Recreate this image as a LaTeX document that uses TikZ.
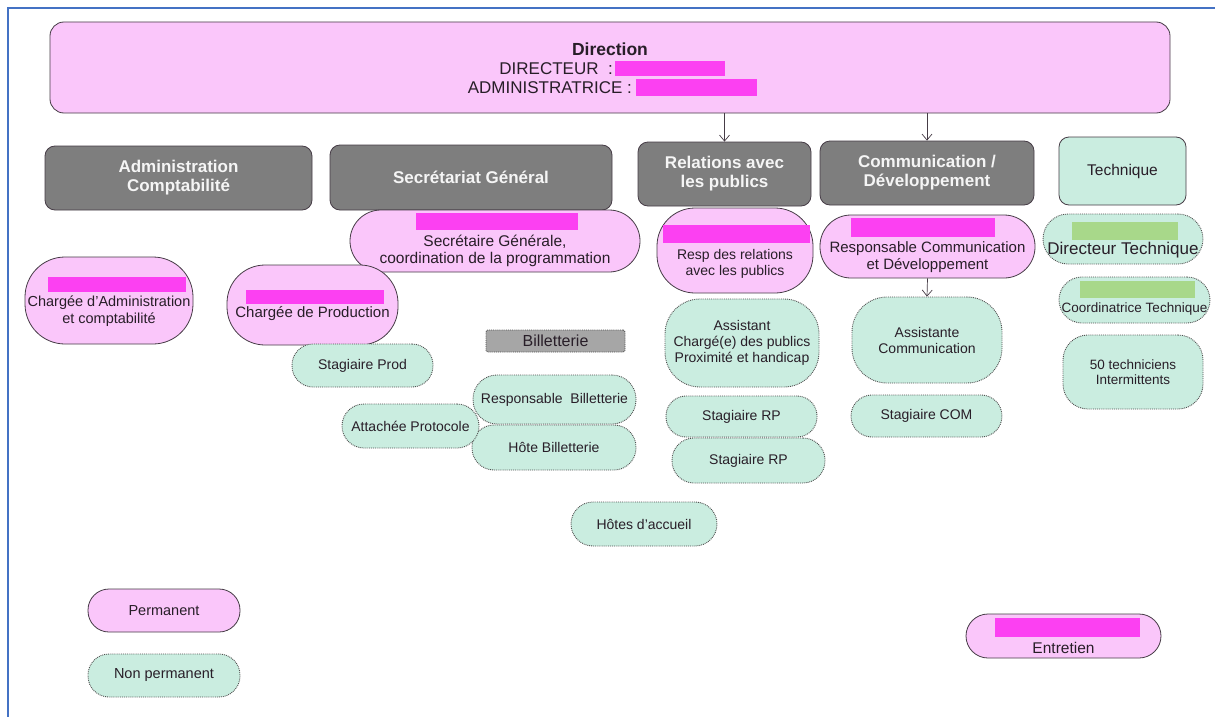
\documentclass[tikz,border=0pt]{standalone}
\usepackage{fontspec}
\setmainfont{Liberation Sans}
\usetikzlibrary{arrows.meta}
\definecolor{pinkfill}{RGB}{250,198,250}
\definecolor{magbar}{RGB}{252,64,242}
\definecolor{grayhead}{RGB}{126,126,126}
\definecolor{greenfill}{RGB}{202,237,224}
\definecolor{greenbar}{RGB}{168,216,138}
\definecolor{billfill}{RGB}{166,166,166}
\definecolor{frameblue}{RGB}{68,114,196}
\definecolor{edge}{RGB}{70,60,70}
\definecolor{dotedge}{RGB}{80,80,80}
\definecolor{txt}{RGB}{40,30,40}
\definecolor{headtxt}{RGB}{245,245,245}
\newcommand{\fs}[2]{\fontsize{#1}{#2}\selectfont}
\tikzset{
  box/.style={inner sep=0pt, align=center, text=txt},
  headbox/.style={box, draw=edge, line width=0.8pt, fill=grayhead, rounded corners=10pt, text=headtxt, font=\fs{17}{19}\bfseries},
  permbox/.style={box, draw=edge, line width=0.8pt, fill=pinkfill},
  npermbox/.style={box, draw=dotedge, line width=0.9pt, densely dotted, fill=greenfill},
  redbar/.style={fill=magbar, inner sep=0pt},
  grbar/.style={fill=greenbar, inner sep=0pt},
  lbl/.style={inner sep=0pt, align=center, text=txt},
  arr/.style={draw=edge, line width=0.7pt, -{Straight Barb[length=6pt,width=10pt]}}
}
\begin{document}
\begin{tikzpicture}[x=1pt,y=-1pt]
\useasboundingbox[fill=white] (0,0) rectangle (1215,717);
% frame
\draw[frameblue, line width=2pt] (8,717) -- (8,8) -- (1215,8);

% Direction
\node[permbox, rounded corners=14pt, minimum width=1120pt, minimum height=91pt] (dir) at (610,67.5) {};
\node[lbl, font=\fs{17.5}{19}\bfseries] (dirt) at (610,49) {Direction};
\node[lbl, anchor=east, font=\fs{17}{19}] (dirl1) at (613,69) {DIRECTEUR \ :};
\node[lbl, anchor=east, font=\fs{17}{19}] (dirl2) at (632,88) {ADMINISTRATRICE :};
\fill[magbar] (615,61) rectangle (725,76);
\fill[magbar] (636,79) rectangle (757,96);

% headers
\node[headbox, minimum width=267pt, minimum height=64pt] (adm) at (178.5,178) {Administration\\Comptabilité};
\node[headbox, minimum width=282pt, minimum height=65pt] (sg) at (471,177.5) {Secrétariat Général};
\node[headbox, minimum width=173pt, minimum height=64pt] (rel) at (724.5,174) {Relations avec\\les publics};
\node[headbox, minimum width=214pt, minimum height=64pt] (com) at (927,173) {Communication /\\Développement};
\node[box, draw=edge, line width=0.8pt, fill=greenfill, rounded corners=10pt, minimum width=127pt, minimum height=68pt, font=\fs{15.5}{17}] (tech) at (1122.5,171) {Technique};

\draw[arr] (dir.south -| rel.north) -- (rel.north);
\draw[arr] (dir.south -| com.north) -- (com.north);

% pink permanent
\node[permbox, rounded corners=31pt, minimum width=290pt, minimum height=62pt] (sgp) at (495,241) {};
\node[redbar, minimum width=162pt, minimum height=17pt] (sgpb) at (497,221.5) {};
\node[lbl, font=\fs{15.5}{16.5}] (sgpt) at (495,251) {Secrétaire Générale,\\coordination de la programmation};

\node[permbox, rounded corners=38pt, minimum width=156pt, minimum height=85pt] (relp) at (735,250.5) {};
\node[redbar, minimum width=147pt, minimum height=18pt] (relpb) at (736.5,234) {};
\node[lbl, font=\fs{14}{16}] (relpt) at (735,264) {Resp des relations\\avec les publics};

\node[permbox, rounded corners=31pt, minimum width=215pt, minimum height=63pt] (comp) at (927.5,246.5) {};
\node[redbar, minimum width=144pt, minimum height=19pt] (compb) at (923,227.5) {};
\node[lbl, font=\fs{15}{17.5}] (compt) at (927.5,257) {Responsable Communication\\et Développement};

\node[permbox, rounded corners=40pt, minimum width=168pt, minimum height=87pt] (admp) at (109,300.5) {};
\node[redbar, minimum width=138pt, minimum height=15pt] (admpb) at (117,284.5) {};
\node[lbl, font=\fs{14.5}{17.5}] (admpt) at (109,311) {Chargée d'Administration\\et comptabilité};

\node[permbox, rounded corners=38pt, minimum width=171pt, minimum height=80pt] (prodp) at (312.5,305) {};
\node[redbar, minimum width=138pt, minimum height=14pt] (prodpb) at (315,297) {};
\node[lbl, font=\fs{15}{17}] (prodpt) at (312.5,314) {Chargée de Production};

% green non permanent
\node[npermbox, rounded corners=25pt, minimum width=160pt, minimum height=50pt] (dtech) at (1123,239) {};
\node[grbar, minimum width=106pt, minimum height=18pt] (dtechb) at (1125,231) {};
\node[lbl, font=\fs{17}{19}] (dtecht) at (1123,250) {Directeur Technique};

\node[npermbox, rounded corners=23pt, minimum width=151pt, minimum height=46pt] (ctech) at (1134.5,300) {};
\node[grbar, minimum width=115pt, minimum height=17pt] (ctechb) at (1137.5,289.5) {};
\node[lbl, font=\fs{13.5}{15}] (ctecht) at (1134.5,309) {Coordinatrice Technique};

\node[npermbox, rounded corners=25pt, minimum width=140pt, minimum height=74pt, font=\fs{13.5}{15.5}] (inter) at (1133,372) {50 techniciens\\Intermittents};

\node[npermbox, rounded corners=35pt, minimum width=154pt, minimum height=88pt, font=\fs{14}{16}] (assrel) at (742,343) {Assistant\\Chargé(e) des publics\\Proximité et handicap};
\node[npermbox, rounded corners=35pt, minimum width=150pt, minimum height=86pt, font=\fs{14}{16}] (asscom) at (927,340) {Assistante\\Communication};
\draw[arr] (comp.south) -- (asscom.north);

\node[npermbox, rounded corners=20pt, minimum width=151pt, minimum height=41pt, font=\fs{14}{16}] (rp1) at (741.5,416.5) {Stagiaire RP};
\node[npermbox, rounded corners=22pt, minimum width=153pt, minimum height=45pt, font=\fs{14}{16}] (rp2) at (748.5,460.5) {Stagiaire RP};
\node[npermbox, rounded corners=21pt, minimum width=151pt, minimum height=42pt, font=\fs{14}{16}] (scom) at (926.5,416) {Stagiaire COM};

\node[box, draw=dotedge, line width=0.9pt, densely dotted, fill=billfill, rounded corners=2pt, minimum width=139pt, minimum height=22pt, font=\fs{16}{18}] (bill) at (555.5,341) {Billetterie};

\node[npermbox, rounded corners=21pt, minimum width=141pt, minimum height=43pt, font=\fs{14}{16}] (sprod) at (362.5,365.5) {Stagiaire Prod};
\node[npermbox, rounded corners=24pt, minimum width=163pt, minimum height=49pt, font=\fs{14}{16}] (rbill) at (554.5,399.5) {Responsable \ Billetterie};
\node[npermbox, rounded corners=22pt, minimum width=164pt, minimum height=45pt, font=\fs{14}{16}] (hbill) at (554,447.5) {Hôte Billetterie};
\node[npermbox, rounded corners=22pt, minimum width=137pt, minimum height=44pt, font=\fs{14}{16}] (attp) at (410.5,426) {Attachée Protocole};
\node[npermbox, rounded corners=22pt, minimum width=146pt, minimum height=44pt, font=\fs{14}{16}] (hacc) at (644,524) {Hôtes d'accueil};

% legend
\node[permbox, rounded corners=21pt, minimum width=152pt, minimum height=43pt, font=\fs{14.5}{16}] (perm) at (164,610.5) {Permanent};
\node[npermbox, rounded corners=21pt, minimum width=152pt, minimum height=43pt, font=\fs{14.5}{16}] (nperm) at (164,675.5) {Non permanent};

% entretien
\node[permbox, rounded corners=22pt, minimum width=195pt, minimum height=44pt] (entr) at (1063.5,636) {};
\node[redbar, minimum width=145pt, minimum height=19pt] (entrb) at (1067.5,627.5) {};
\node[lbl, font=\fs{15.5}{17}] (entrt) at (1063.5,648) {Entretien};
\end{tikzpicture}
\end{document}
